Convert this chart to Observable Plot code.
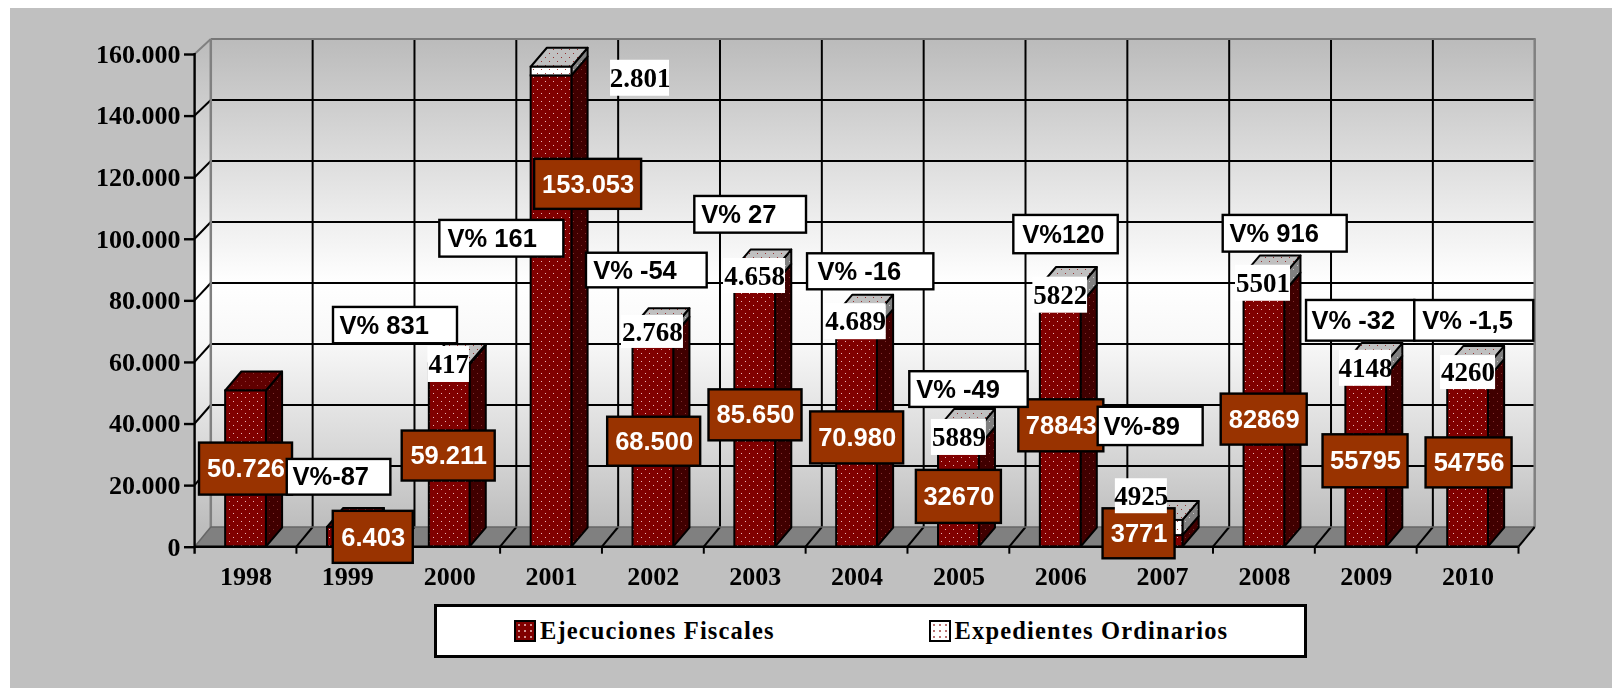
<!DOCTYPE html>
<html lang="es">
<head>
<meta charset="utf-8">
<title>Ejecuciones Fiscales y Expedientes Ordinarios</title>
<script src="https://cdn.jsdelivr.net/npm/d3@7"></script>
<script src="https://cdn.jsdelivr.net/npm/@observablehq/plot@0.6"></script>
<style>
  html, body { margin: 0; padding: 0; background: #fff; overflow: hidden; color: #000; }
  #paper { position: fixed; left: 10px; top: 8px; right: 0; bottom: 0; background: #c0c0c0; }
  #chart { position: absolute; left: 0; top: 0; }
  #chart svg { display: block; max-width: none; }
  #legend { position: absolute; left: 434px; top: 604px; width: 873px; height: 54px; box-sizing: border-box;
    background: #fff; border: 3px solid #000; font: bold 24.5px "Liberation Serif", serif; letter-spacing: 1.15px; }
  #legend .sw { position: absolute; top: 13px; width: 22px; height: 22px; box-sizing: border-box; border: 2px solid #000;
    background-image: radial-gradient(circle, #f0c8c8 0.6px, transparent 1px); background-size: 6px 6px; }
  #legend .tx { position: absolute; top: 10px; line-height: 28px; white-space: nowrap; }
</style>
</head>
<body>
<div id="paper"></div>
<div id="chart"></div>
<div id="legend"></div>
<script>
// ---- values ----
const years = ["1998","1999","2000","2001","2002","2003","2004","2005","2006","2007","2008","2009","2010"];
const fiscal = [50726,6403,59211,153053,68500,85650,70980,32670,78843,3771,82869,55795,54756];
const ordinary = [0,0,417,2801,2768,4658,4689,5889,5822,4925,5501,4148,4260];
const fiscalLabels = ["50.726","6.403","59.211","153.053","68.500","85.650","70.980","32670","78843","3771","82869","55795","54756"];
const ordinaryLabels = ["","","417","2.801","2.768","4.658","4.689","5889","5822","4925","5501","4148","4260"];
const variationLabels = ["","V%-87","V% 831","V% 161","V% -54","V% 27","V% -16","V% -49","V%120","V%-89","V% 916","V% -32","V% -1,5"];
const seriesNames = ["Ejecuciones Fiscales","Expedientes Ordinarios"];
const yTicks = [0,20000,40000,60000,80000,100000,120000,140000,160000];

// ---- layout of the callouts: [dx, dy, boxWidth, boxHeight] from each anchor, in pixels ----
const fiscalBoxes = [[0,0,93,52],[25.4,0,80,52],[-1,0,93,50],[36.6,-127.2,107,50],[.8,0,93,49],[.3,0,93,51],[.1,0,93,52],[0,0,85,53],[.6,0,85,52],[-23.5,-7.6,72,50],[-.2,0,86,51],[-.7,0,85,53],[1,0,86,50]];
const ordinaryBoxes = [null,null,[-1,.9,41.5,36],[88.5,11,59,36],[-.9,4.2,62,33],[-.7,6.9,62,35],[-1.5,7.5,61.4,36],[0,9,55,36],[-.5,8.7,54.7,36],[-21.2,-24.2,52,35],[-1.4,8.2,55,36],[-.7,5.7,52,36],[0,7.1,55,34]];
// [box left from band centre, dy from stack top, width, height, text padding]
const variationBoxes = [null,[-60.6,-50.2,103.6,35.7,5.2],[-116.2,-38,124,36.3,6],[-111.7,171.5,124,36.7,7.7],[-66.9,-57.2,120.7,34.6,6.7],[-60.4,-54.3,111.7,36.7,6.4],[-49.5,-42.4,126.3,36,10],[-49.1,-38.9,118.4,35.7,6.4],[-46.9,-51.9,104.4,38.3,8.4],[-64.4,-94,105,38.3,5.3],[-41.2,-41.3,124,36.7,6.3],[-59.7,-41.8,108.3,40.7,5],[-53.3,-44.6,119,40.7,7.4]];

const rows = years.map((year, i) => ({year, fiscal: fiscal[i], total: fiscal[i] + ordinary[i], ordinary: ordinary[i]}));

const depthX = 16.2, depthY = -19;
const SERIF = "Liberation Serif", SANS = "Liberation Sans";
const NS = "http://www.w3.org/2000/svg";
const make = (name, attrs, parent) => { const e = document.createElementNS(NS, name); for (const k in attrs) e.setAttribute(k, attrs[k]); if (parent) parent.appendChild(e); return e; };
const poly = (g, pts, attrs) => make("polygon", {points: pts.map(p => p.join(",")).join(" "), ...attrs}, g);
const line = (g, a, b, stroke, w) => make("line", {x1:a[0], y1:a[1], x2:b[0], y2:b[1], stroke, "stroke-width":w}, g);

// patterns + wall gradient
const defsMark = (index, {y}) => {
  const g = make("g", {});
  const defs = make("defs", {}, g);
  const pat = (id, bg, dot) => {
    const p = make("pattern", {id, width:8, height:8, patternUnits:"userSpaceOnUse"}, defs);
    make("rect", {width:8, height:8, fill:bg}, p);
    make("rect", {x:1, y:1, width:1, height:1, fill:dot}, p);
    make("rect", {x:5, y:5, width:1, height:1, fill:dot}, p);
  };
  pat("redFront", "#800000", "#e8b8b8");
  pat("redSide", "#400000", "#803030");
  pat("redTop", "#600000", "#903838");
  pat("whiteFront", "#ffffff", "#a04040");
  pat("graySide", "#808080", "#c8c8c8");
  pat("grayTop", "#c0c0c0", "#903030");
  const lg = make("linearGradient", {id:"wall", gradientUnits:"userSpaceOnUse", x1:0, x2:0, y1:y(160000)-15, y2:y(0)-19.7}, defs);
  [[0,"#bbbbbb"],[.3,"#e4e4e4"],[.5,"#ffffff"],[.62,"#f8f8f8"],[.85,"#d6d6d6"],[1,"#bdbdbd"]].forEach(([o,c]) => make("stop", {offset:o, "stop-color":c}, lg));
  return g;
};

// walls, floor, grid and the axis lines and boundary ticks
const wallsMark = (index, {x, y}) => {
  const g = make("g", {});
  const step = x.step(), left = x(years[0]) - (step - x.bandwidth()) / 2, right = left + step * years.length;
  const backY = v => y(v) - 19.7 + 4.7 * v / 160000;
  const bx = depthX;
  poly(g, [[left+bx,backY(160000)],[right+bx,backY(160000)],[right+bx,backY(0)],[left+bx,backY(0)]], {fill:"url(#wall)"});
  poly(g, [[left,y(160000)],[left+bx,backY(160000)],[left+bx,backY(0)],[left,y(0)]], {fill:"url(#wall)"});
  poly(g, [[left,y(0)],[left+bx,backY(0)],[right+bx,backY(0)],[right,y(0)]], {fill:"#808080"});
  // vertical grid on back wall + floor diagonals
  for (let i = 1; i < years.length; i++) {
    const tx = left + i * step;
    line(g, [tx+bx,backY(160000)], [tx+bx,backY(0)], "#000", 2);
    line(g, [tx,y(0)], [tx+bx,backY(0)], "#000", 2);
  }
  // horizontal grid
  for (const v of yTicks.slice(1, -1)) {
    line(g, [left+bx,backY(v)], [right+bx,backY(v)], "#000", 2);
    line(g, [left,y(v)], [left+bx,backY(v)], "#000", 2);
  }
  // wall edges
  line(g, [left+bx,backY(160000)], [right+bx+1,backY(160000)], "#777", 2);
  line(g, [left+bx,backY(160000)], [left+bx,backY(0)], "#808080", 2.5);
  line(g, [right+bx,backY(160000)], [right+bx,backY(0)], "#808080", 2.5);
  line(g, [left,y(160000)], [left+bx,backY(160000)], "#808080", 2);
  line(g, [left,y(0)], [left+bx,backY(0)], "#666", 1.5);
  line(g, [left+bx,backY(0)], [right+bx,backY(0)], "#666", 1.5);
  line(g, [right,y(0)], [right+bx,backY(0)], "#000", 2);
  return g;
};

const axisLinesMark = (index, {x, y}) => {
  const g = make("g", {});
  const step = x.step(), left = x(years[0]) - (step - x.bandwidth()) / 2;
  line(g, [left,y(160000)-1], [left,y(0)+7], "#000", 2.4);
  line(g, [left,y(0)], [left + step*years.length,y(0)], "#000", 2.6);
  for (let i = 1; i <= years.length; i++) line(g, [left+i*step,y(0)], [left+i*step,y(0)+7], "#000", 2);
  return g;
};

// side and top faces of the bars
const facesMark = (index, {x, y}) => {
  const g = make("g", {"stroke":"#000","stroke-width":2,"stroke-linejoin":"round"});
  for (const r of rows) {
    const x0 = x(r.year), x1 = x0 + x.bandwidth();
    const yF = y(r.fiscal), yT = y(r.total), y0 = y(0);
    poly(g, [[x1,y0],[x1+depthX,y0+depthY],[x1+depthX,yF+depthY],[x1,yF]], {fill:"url(#redSide)"});
    if (r.ordinary > 0) poly(g, [[x1,yF],[x1+depthX,yF+depthY],[x1+depthX,yT+depthY],[x1,yT]], {fill:"url(#graySide)"});
    poly(g, [[x0,yT],[x0+depthX,yT+depthY],[x1+depthX,yT+depthY],[x1,yT]], {fill: r.ordinary > 0 ? "url(#grayTop)" : "url(#redTop)"});
  }
  return g;
};

// callouts: a box and its text anchored on (year, value)
function callouts(items, boxAttrs, textOptions) {
  const boxes = (index, {x, y}) => {
    const g = make("g", {});
    for (const d of items) {
      const cx = x(d.year) + x.bandwidth() / 2 + d.dx, cy = y(d.value) + d.dy;
      const left = d.anchorLeft ? cx : cx - d.w / 2;
      make("rect", {x:left, y:cy - d.h / 2, width:d.w, height:d.h, ...boxAttrs}, g);
    }
    return g;
  };
  return [boxes, ...items.map(d => Plot.text([d], {x:"year", y:"value", text:"label",
    dx: d.dx + (d.anchorLeft ? d.pad : 0), dy: d.dy, textAnchor: d.anchorLeft ? "start" : "middle", ...textOptions}))];
}

const fiscalItems = rows.map((r, i) => { const [dx,dy,w,h] = fiscalBoxes[i]; return {year:r.year, value:r.fiscal/2, label:fiscalLabels[i], dx, dy, w, h}; });
const ordinaryItems = rows.flatMap((r, i) => { const b = ordinaryBoxes[i]; if (!b) return []; const [dx,dy,w,h] = b; return [{year:r.year, value:r.total, label:ordinaryLabels[i], dx, dy, w, h}]; });
const variationItems = rows.flatMap((r, i) => { const b = variationBoxes[i]; if (!b) return []; const [dx,dy,w,h,pad] = b; return [{year:r.year, value:r.total, label:variationLabels[i], dx, dy, w, h, pad, anchorLeft:true}]; });

const chart = Plot.plot({
  width: 1612, height: 600,
  marginLeft: 194.6, marginRight: 93.5, marginTop: 54, marginBottom: 53.3,
  style: {background:"transparent", fontFamily:SERIF, fontWeight:"bold", fontSize:"26px", color:"#000", overflow:"visible"},
  x: {type:"band", domain:years, paddingInner:0.6, paddingOuter:0.3, round:false, label:null},
  y: {domain:[0,160000], label:null},
  marks: [
    defsMark,
    wallsMark,
    facesMark,
    Plot.barY(rows, {x:"year", y1:0, y2:"fiscal", fill:"url(#redFront)", stroke:"#000", strokeWidth:2}),
    Plot.barY(rows.filter(r => r.ordinary > 0), {x:"year", y1:"fiscal", y2:"total", fill:"url(#whiteFront)", stroke:"#000", strokeWidth:2}),
    axisLinesMark,
    Plot.axisY({ticks:yTicks, tickFormat:d => d === 0 ? "0" : `${d/1000}.000`, tickSize:10.6, tickPadding:4, strokeWidth:2.4, fill:"#000", label:null}),
    Plot.axisX({tickSize:0, tickPadding:19, tickFormat:d => d, fill:"#000", label:null}),
    ...callouts(fiscalItems, {fill:"#993300", stroke:"#000", "stroke-width":2.4}, {fill:"#fff", fontFamily:SANS, fontWeight:"bold", fontSize:25.5}),
    ...callouts(variationItems, {fill:"#fff", stroke:"#000", "stroke-width":2.4}, {fill:"#000", fontFamily:SANS, fontWeight:"bold", fontSize:25.5}),
    ...callouts(ordinaryItems, {fill:"#fff"}, {fill:"#000", fontFamily:SERIF, fontWeight:"bold", fontSize:27})
  ]
});
document.getElementById("chart").appendChild(chart);

// legend
const legend = document.getElementById("legend");
[[77,"#800000",103],[492,"#ffffff",517.5]].forEach(([l,c,t], i) => {
  const sw = document.createElement("div"); sw.className = "sw"; sw.style.left = l + "px"; sw.style.backgroundColor = c;
  if (i === 1) sw.style.backgroundImage = "radial-gradient(circle, #a04040 0.6px, transparent 1px)";
  legend.appendChild(sw);
  const tx = document.createElement("div"); tx.className = "tx"; tx.style.left = t + "px"; tx.textContent = seriesNames[i];
  legend.appendChild(tx);
});
</script>
</body>
</html>
